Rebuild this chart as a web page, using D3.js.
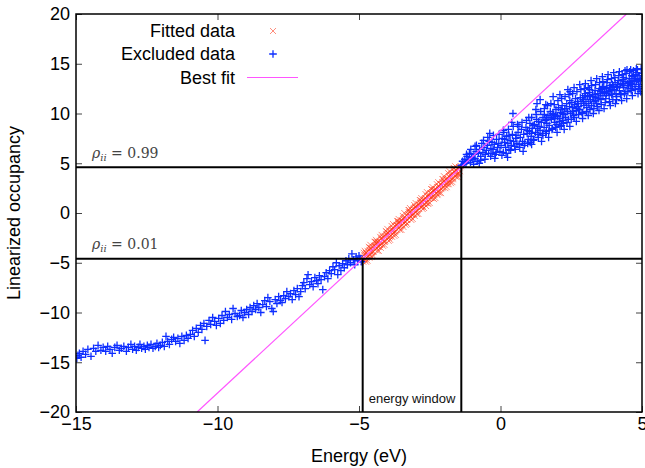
<!DOCTYPE html>
<html>
<head>
<meta charset="utf-8">
<script src="https://cdn.jsdelivr.net/npm/d3@7"></script>
<style>
  body { margin: 0; background: #fff; }
  svg { display: block; font-family: 'Liberation Sans', Arial, sans-serif; }
  .tick line { stroke: #444; stroke-width: 1; }
  .tick text { font-size: 18px; fill: #000; }
</style>
</head>
<body>
<div id="chart"></div>
<script>
// Points inside the energy window (used for the fit)
const fittedData = [
  [-4.88,-4.4],[-4.85,-4.9],[-4.82,-4.2],[-4.79,-4.6],[-4.76,-4.0],[-4.73,-4.5],[-4.70,-3.8],[-4.67,-4.3],
  [-4.64,-3.7],[-4.61,-4.2],[-4.58,-3.5],[-4.55,-4.0],[-4.52,-3.4],[-4.49,-3.9],[-4.46,-3.3],[-4.43,-3.7],
  [-4.40,-3.0],[-4.37,-3.5],[-4.34,-2.9],[-4.31,-3.4],[-4.28,-2.8],[-4.25,-3.2],[-4.22,-2.6],[-4.19,-3.1],
  [-4.16,-2.4],[-4.13,-2.9],[-4.10,-2.3],[-4.07,-2.8],[-4.04,-2.1],[-4.01,-2.6],[-3.98,-2.0],[-3.95,-2.5],
  [-3.92,-1.8],[-3.89,-2.3],[-3.86,-1.7],[-3.83,-2.1],[-3.80,-1.5],[-3.77,-2.0],[-3.74,-1.3],[-3.71,-1.8],
  [-3.68,-1.2],[-3.65,-1.7],[-3.62,-1.0],[-3.59,-1.5],[-3.56,-0.9],[-3.53,-1.3],[-3.50,-0.7],[-3.47,-1.2],
  [-3.44,-0.6],[-3.41,-1.0],[-3.38,-0.4],[-3.35,-0.9],[-3.32,-0.2],[-3.29,-0.7],[-3.26,-0.1],[-3.23,-0.5],
  [-3.20,0.1],[-3.17,-0.4],[-3.14,0.3],[-3.11,-0.2],[-3.08,0.4],[-3.05,-0.1],[-3.02,0.6],[-2.99,0.1],
  [-2.96,0.7],[-2.93,0.3],[-2.90,0.9],[-2.87,0.4],[-2.84,1.0],[-2.81,0.6],[-2.78,1.2],[-2.75,0.7],
  [-2.72,1.3],[-2.69,0.9],[-2.66,1.5],[-2.63,1.0],[-2.60,1.7],[-2.57,1.2],[-2.54,1.8],[-2.51,1.4],
  [-2.48,2.0],[-2.45,1.5],[-2.42,2.1],[-2.39,1.7],[-2.36,2.3],[-2.33,1.8],[-2.30,2.4],[-2.27,2.0],
  [-2.24,2.6],[-2.21,2.1],[-2.18,2.7],[-2.15,2.3],[-2.12,2.9],[-2.09,2.4],[-2.06,3.1],[-2.03,2.6],
  [-2.00,3.2],[-1.97,2.8],[-1.94,3.4],[-1.91,2.9],[-1.88,3.5],[-1.85,3.1],[-1.82,3.7],[-1.79,3.2],
  [-1.76,3.8],[-1.73,3.4],[-1.70,4.0],[-1.67,3.5],[-1.64,4.2],[-1.61,3.7],[-1.58,4.3],[-1.55,3.9],
  [-1.52,4.5],[-1.49,4.0],[-1.46,4.6],[-1.43,4.2],[-1.40,4.7],
  [-4.865,-4.6],[-4.805,-4.7],[-4.745,-4.0],[-4.685,-4.4],[-4.625,-3.5],[-4.565,-3.9],[-4.505,-3.9],
  [-4.445,-3.3],[-4.385,-2.9],[-4.325,-3.4],[-4.265,-3.2],[-4.205,-2.5],[-4.145,-2.7],[-4.085,-2.9],
  [-4.025,-2.2],[-3.965,-2.0],[-3.905,-2.4],[-3.845,-1.6],[-3.785,-1.8],[-3.725,-1.9],[-3.665,-1.2],
  [-3.605,-0.9],[-3.545,-1.4],[-3.485,-0.8],[-3.425,-0.5],[-3.365,-0.9],[-3.305,-0.7],[-3.245,0.1],
  [-3.185,-0.3],[-3.125,-0.2],[-3.065,0.5],[-3.005,0.6],[-2.945,0.2],[-2.885,0.8],[-2.825,1.1],
  [-2.765,0.6],[-2.705,1.4],[-2.645,1.5],[-2.585,1.0],[-2.525,1.7],[-2.465,2.0],[-2.405,1.5],
  [-2.345,2.3],[-2.285,2.4],[-2.225,1.9],[-2.165,2.6],[-2.105,2.9],[-2.045,2.5],[-1.985,3.1],
  [-1.925,3.4],[-1.865,2.9],[-1.805,3.6],[-1.745,3.9],[-1.685,3.4],[-1.625,4.1],[-1.565,4.3],
  [-1.505,3.9],[-1.445,4.6],
  [-4.80,-3.8],[-4.70,-4.8],[-4.60,-3.2],[-4.50,-4.3],[-4.40,-2.7],[-4.30,-3.8],[-4.20,-2.2],[-4.10,-3.2],
  [-4.00,-1.6],[-3.90,-2.7],[-3.80,-1.1],[-3.70,-2.2],[-3.60,-0.6],[-3.50,-1.7],[-3.40,0.0],[-3.30,-1.1],
  [-3.20,0.5],[-3.10,-0.6],[-3.00,1.0],[-2.90,-0.1],[-2.80,1.5],[-2.70,0.5],[-2.60,2.1],[-2.50,1.0],
  [-2.40,2.6],[-2.30,1.5],[-2.20,3.1],[-2.10,2.0],[-2.00,3.7],[-1.90,2.6],[-1.80,4.2],[-1.70,3.1],
  [-1.60,4.7],[-1.50,3.6],
  [-4.75,-4.9],[-4.65,-3.4],[-4.55,-4.4],[-4.45,-2.9],[-4.35,-3.8],[-4.25,-2.4],[-4.15,-3.3],[-4.05,-1.8],
  [-3.95,-2.8],[-3.85,-1.3],[-3.75,-2.3],[-3.65,-0.8],[-3.55,-1.7],[-3.45,-0.3],[-3.35,-1.2],[-3.25,0.3],
  [-3.15,-0.7],[-3.05,0.8],[-2.95,-0.1],[-2.85,1.3],[-2.75,0.4],[-2.65,1.9],[-2.55,0.9],[-2.45,2.4],
  [-2.35,1.4],[-2.25,2.9],[-2.15,2.0],[-2.05,3.4],[-1.95,2.5],[-1.85,4.0],[-1.75,3.0],[-1.65,4.5],
  [-1.55,3.6],
  [-4.83,-4.0],[-4.63,-4.5],[-4.43,-2.9],[-4.23,-3.5],[-4.03,-1.9],[-3.83,-2.4],[-3.63,-0.8],[-3.43,-1.4],
  [-3.23,0.3],[-3.03,-0.3],[-2.83,1.3],[-2.63,0.7],[-2.43,2.4],[-2.23,1.8],[-2.03,3.4],[-1.83,2.9],
  [-1.63,4.5],[-1.48,3.9]
]

// Points below the window (low energy side)
const excludedLow = [
  [-14.97,-14.6],[-14.93,-14.3],[-14.88,-14.1],[-14.82,-14.5],[-14.75,-13.9],[-14.66,-14.2],[-14.58,-13.7],
  [-14.47,-14.4],[-14.38,-13.6],[-14.3,-13.9],[-14.22,-13.3],[-14.12,-13.8],[-14.04,-13.5],
  [-13.95,-13.9],[-13.88,-13.4],[-13.8,-13.7],[-13.72,-14.1],[-13.63,-13.5],[-13.55,-13.3],[-13.47,-13.8],
  [-13.4,-13.6],[-13.31,-13.4],[-13.22,-13.9],[-13.15,-13.5],[-13.06,-13.2],[-13.0,-13.7],
  [-12.93,-13.4],[-12.87,-13.8],[-12.8,-13.5],[-12.74,-13.2],[-12.68,-13.6],[-12.6,-13.4],[-12.55,-13.7],
  [-12.48,-13.3],[-12.42,-13.5],[-12.35,-13.2],[-12.28,-13.6],[-12.2,-13.4],[-12.14,-13.1],[-12.08,-13.5],
  [-12.02,-13.3],
  [-11.95,-13.0],[-11.88,-13.4],[-11.82,-12.4],[-11.76,-12.9],[-11.7,-13.2],[-11.62,-12.7],[-11.55,-12.5],
  [-11.48,-12.9],[-11.4,-12.6],[-11.33,-13.1],[-11.26,-12.4],[-11.18,-12.8],[-11.1,-12.3],[-11.04,-12.6],
  [-10.96,-12.2],[-10.88,-11.8],[-10.82,-12.4],[-10.75,-11.6],[-10.68,-12.0],[-10.6,-11.3],[-10.55,-11.7],
  [-10.48,-11.1],[-10.44,-12.8],[-10.38,-11.4],[-10.3,-10.8],[-10.24,-11.2],[-10.17,-10.5],[-10.1,-10.9],
  [-10.04,-11.3],
  [-9.96,-10.6],[-9.9,-11.1],[-9.84,-10.3],[-9.78,-10.8],[-9.72,-9.9],[-9.65,-10.5],[-9.58,-10.2],
  [-9.5,-10.7],[-9.45,-9.6],[-9.38,-10.1],[-9.3,-10.4],[-9.22,-10.3],[-9.16,-9.8],[-9.1,-10.5],[-9.04,-10.0],
  [-8.97,-9.7],[-8.9,-10.2],[-8.85,-9.5],[-8.78,-9.9],[-8.72,-9.3],[-8.65,-9.7],[-8.6,-9.1],[-8.54,-9.5],
  [-8.47,-10.0],[-8.4,-9.2],[-8.33,-8.8],[-8.27,-9.4],[-8.22,-8.5],[-8.15,-8.9],[-8.08,-9.6],[-8.03,-9.9],
  [-7.96,-8.7],[-7.9,-9.1],[-7.84,-8.4],[-7.78,-8.8],[-7.72,-9.0],[-7.66,-8.3],[-7.6,-8.6],[-7.55,-7.9],
  [-7.48,-8.4],[-7.42,-8.1],[-7.36,-8.7],[-7.3,-7.8],[-7.24,-8.2],[-7.18,-7.6],[-7.12,-8.4],[-7.06,-7.9],
  [-7.0,-7.3],
  [-6.95,-7.0],[-6.9,-7.6],[-6.84,-6.6],[-6.8,-6.2],[-6.74,-7.2],[-6.68,-6.9],[-6.62,-7.4],[-6.56,-6.5],
  [-6.5,-6.8],[-6.45,-7.1],[-6.4,-6.3],[-6.34,-6.7],[-6.28,-7.7],[-6.22,-6.4],[-6.16,-6.0],[-6.1,-6.6],
  [-6.04,-5.8],
  [-5.98,-6.1],[-5.92,-5.4],[-5.86,-5.7],[-5.8,-5.0],[-5.75,-6.2],[-5.7,-5.3],[-5.64,-5.8],[-5.58,-5.1],
  [-5.52,-5.5],[-5.46,-4.8],[-5.41,-5.2],[-5.36,-4.6],[-5.3,-5.0],[-5.25,-4.1],[-5.2,-4.7],[-5.15,-5.2],
  [-5.1,-4.4],[-5.05,-4.8],[-5.0,-4.3],[-4.96,-4.6],[-4.92,-4.9]
]

// Points above the window (high energy side)
const excludedHigh = [
  [-1.38,4.8],[-1.34,5.2],[-1.3,4.9],[-1.26,5.4],[-1.22,5.0],[-1.18,5.7],[-1.14,5.3],[-1.1,6.0],[-1.06,5.1],
  [-1.02,5.6],
  [-0.98,5.4],[-0.94,5.9],[-0.9,5.5],[-0.86,6.2],[-0.82,5.2],[-0.78,6.0],[-0.74,6.4],[-0.7,5.7],[-0.66,7.0],
  [-0.62,6.1],[-0.58,6.6],[-0.54,5.9],[-0.5,6.3],
  [-0.46,6.8],[-0.42,6.0],[-0.38,8.0],[-0.34,6.5],[-0.3,7.1],[-0.26,6.4],[-0.22,6.9],[-0.18,5.9],[-0.14,7.4],
  [-0.1,6.6],[-0.06,7.0],[-0.02,6.2],
  [0.02,6.8],[0.06,7.5],[0.1,6.1],[0.14,7.1],[0.18,6.6],[0.22,7.7],[0.26,7.0],[0.3,6.4],[0.34,7.3],[0.38,6.8],
  [0.42,7.9],[0.44,10.0],[0.46,7.2],[0.5,6.7],
  [0.54,7.5],[0.58,7.0],[0.62,8.1],[0.66,6.9],[0.7,7.6],[0.74,8.4],[0.78,7.2],[0.82,7.9],[0.86,7.0],[0.9,8.6],
  [0.94,8.0],[0.98,7.4],
  [1.02,8.2],[1.04,9.0],[1.08,7.7],[1.12,8.5],[1.16,7.3],[1.2,8.9],[1.24,8.1],[1.28,9.4],[1.29,11.0],[1.32,7.9],
  [1.36,8.7],[1.4,11.4],[1.4,8.3],[1.44,9.1],[1.48,8.0],
  [1.5,9.6],[1.54,8.6],[1.58,9.3],[1.62,8.2],[1.64,9.0],[1.68,9.8],[1.72,8.8],[1.76,10.2],[1.8,9.4],[1.84,8.5],
  [1.86,11.7],[1.88,9.9],[1.92,9.1],[1.96,10.4],[1.99,8.9],
  [2.02,9.7],[2.05,10.6],[2.08,9.2],[2.12,10.1],[2.15,8.8],[2.18,10.8],[2.2,9.3],[2.24,9.9],[2.27,10.5],[2.3,9.6],
  [2.34,11.0],[2.37,10.2],[2.4,9.4],[2.44,10.7],[2.46,12.2],[2.48,10.0],
  [2.52,11.1],[2.56,10.6],[2.58,9.8],[2.62,10.9],[2.65,11.5],[2.68,10.3],[2.72,11.2],[2.75,10.7],[2.8,10.4],
  [2.82,11.6],[2.85,11.0],[2.88,10.1],[2.92,11.4],[2.95,10.8],[2.98,11.8],
  [3.02,11.2],[3.05,10.6],[3.08,11.7],[3.12,11.0],[3.15,12.1],[3.18,11.4],[3.22,10.8],[3.25,11.9],[3.27,11.7],
  [3.3,11.2],[3.34,12.3],[3.37,11.6],[3.4,11.0],[3.44,12.0],[3.47,11.5],[3.5,12.5],
  [3.52,12.0],[3.55,11.4],[3.58,12.4],[3.62,11.8],[3.65,12.7],[3.68,12.1],[3.72,11.5],[3.74,12.5],[3.76,13.1],
  [3.8,12.2],[3.84,11.8],[3.87,12.8],[3.9,12.3],[3.93,11.9],[3.96,12.9],[3.98,12.7],
  [4.02,12.4],[4.05,13.1],[4.08,12.0],[4.1,11.4],[4.13,12.7],[4.16,13.3],[4.2,12.3],[4.23,12.9],[4.26,11.9],
  [4.3,13.0],[4.33,13.4],[4.36,12.6],[4.4,13.2],[4.43,12.2],[4.47,14.4],[4.48,13.0],
  [4.52,12.8],[4.55,13.5],[4.58,12.5],[4.61,13.2],[4.64,13.8],[4.67,12.9],[4.68,13.7],[4.72,13.3],[4.75,12.7],
  [4.78,13.9],[4.82,14.1],[4.85,13.4],[4.88,12.9],[4.9,13.8],[4.93,12.7],[4.96,13.5],[4.99,14.0],
  [-1.2,5.9],[-1.05,6.4],[-0.95,4.9],[-0.85,6.8],[-0.75,5.0],[-0.6,7.3],[-0.55,5.4],[-0.45,7.6],[-0.35,5.7],
  [-0.25,7.8],[-0.15,6.1],[-0.05,7.9],
  [0.05,5.8],[0.12,8.1],[0.2,6.0],[0.28,8.4],[0.36,6.3],[0.45,8.7],[0.52,6.4],[0.6,8.9],[0.68,6.6],[0.76,9.1],
  [0.84,6.8],[0.92,9.3],[0.96,7.0],
  [1.05,7.1],[1.1,9.6],[1.18,7.4],[1.26,9.9],[1.34,7.6],[1.42,10.2],[1.5,7.8],[1.55,10.5],[1.6,8.0],[1.66,10.8],
  [1.72,8.3],[1.78,11.0],[1.82,8.4],[1.9,10.9],[1.95,8.6],
  [2.03,11.3],[2.1,8.7],[2.16,11.5],[2.22,9.0],[2.28,11.7],[2.35,9.1],[2.42,11.9],[2.5,9.4],[2.55,12.0],[2.6,9.6],
  [2.7,12.2],[2.76,9.9],[2.84,12.4],[2.9,10.0],[2.96,12.5],
  [3.04,10.2],[3.1,12.6],[3.16,10.4],[3.22,12.8],[3.3,10.5],[3.36,12.9],[3.42,10.7],[3.5,13.1],[3.56,10.9],
  [3.62,13.2],[3.7,11.1],[3.78,13.4],[3.85,11.2],[3.92,13.5],[3.97,11.4],
  [4.04,13.6],[4.1,11.7],[4.18,13.8],[4.24,11.9],[4.3,13.9],[4.38,12.0],[4.44,14.0],[4.5,12.2],[4.56,14.2],
  [4.62,12.3],[4.7,14.3],[4.76,12.4],[4.84,14.4],[4.9,12.5],[4.97,14.5],
  [0.15,7.4],[0.55,7.8],[0.95,8.3],[1.15,8.8],[1.35,9.2],[1.55,9.9],[1.75,9.6],[1.95,9.8],[2.14,10.4],
  [2.32,10.5],[2.54,10.2],[2.74,11.0],[2.94,11.2],[3.14,11.8],[3.34,11.9],[3.54,12.2],[3.74,12.0],[3.94,12.4],
  [4.14,12.9],[4.34,12.8],[4.54,13.1],[4.74,13.5],[4.94,13.3],
  [-0.9,6.7],[-0.7,5.3],[-0.4,7.2],[-0.2,5.5],[0.1,8.3],[0.25,5.6],[0.4,9.1],[0.65,8.7],[0.8,6.2],[1.0,9.6],
  [1.1,6.9],[1.25,10.4],[1.45,7.2],[1.6,10.9],[1.7,7.6],[1.85,10.0],[2.0,8.1],[2.1,11.9],[2.25,8.4],[2.38,12.4],
  [2.45,8.7],[2.6,12.6],[2.68,9.2],[2.8,12.9],[2.9,9.5],[3.0,13.0],[3.1,9.8],[3.2,13.3],[3.28,10.0],[3.4,13.5],
  [3.48,10.3],[3.6,13.7],[3.66,10.5],[3.8,13.9],[3.88,10.8],[4.0,14.1],[4.06,11.0],[4.2,14.2],[4.28,11.3],
  [4.4,14.3],[4.46,11.5],[4.6,14.4],[4.66,11.8],[4.8,14.5],[4.86,12.0],[4.95,12.2],
  [1.3,8.5],[1.62,9.4],[1.9,9.5],[2.2,10.0],[2.45,11.3],[2.7,10.5],[2.9,11.6],[3.15,12.4],[3.35,11.3],
  [3.6,12.6],[3.85,12.6],[4.1,12.6],[4.35,13.6],[4.6,13.0],[4.8,13.2],[3.0,12.0],[2.1,9.5],[1.1,8.0],
  [0.3,7.8],[-0.3,6.0]
]

// Best fit line end points, occupancy levels and window edges
const fitLine = [[-10.72, -20], [4.45, 20]]
const occupancyLevels = [4.595, -4.595]
const occupancyLabels = ['0.99', '0.01']
const windowEdges = [-4.87, -1.385]

const xTicks = [-15, -10, -5, 0, 5]
const yTicks = [-20, -15, -10, -5, 0, 5, 10, 15, 20]
const legendLabels = ['Fitted data', 'Excluded data', 'Best fit']

const drawChart = () => {
  const margin = { top: 14, right: 3, bottom: 56, left: 76 }
  const width = 645
  const height = 468
  const innerWidth = width - margin.left - margin.right
  const innerHeight = height - margin.top - margin.bottom

  const svg = d3.select('#chart')
    .append('svg')
    .attr('width', width)
    .attr('height', height)

  const g = svg.append('g')
    .attr('transform', `translate(${margin.left}, ${margin.top})`)

  const x = d3.scaleLinear().domain([-15, 5]).range([0, innerWidth])
  const y = d3.scaleLinear().domain([-20, 20]).range([innerHeight, 0])

  const blue = '#0d2eff'
  const red = '#ff3010'
  const magenta = '#ff55ff'
  const plusPath = 'M-3.8,0H3.8M0,-3.8V3.8'
  const crossPath = 'M-3,-3L3,3M3,-3L-3,3'

  // Ticks on all four sides, pointing inwards
  g.append('g')
    .attr('transform', `translate(0, ${innerHeight})`)
    .call(d3.axisBottom(x).tickValues(xTicks).tickSizeInner(-6).tickSizeOuter(0).tickPadding(5))
    .call(a => a.select('.domain').remove())
  g.append('g')
    .call(d3.axisTop(x).tickValues(xTicks).tickSizeInner(-6).tickSizeOuter(0).tickFormat(''))
    .call(a => a.select('.domain').remove())
  g.append('g')
    .call(d3.axisLeft(y).tickValues(yTicks).tickSizeInner(-6).tickSizeOuter(0).tickPadding(6))
    .call(a => a.select('.domain').remove())
  g.append('g')
    .attr('transform', `translate(${innerWidth}, 0)`)
    .call(d3.axisRight(y).tickValues(yTicks).tickSizeInner(-6).tickSizeOuter(0).tickFormat(''))
    .call(a => a.select('.domain').remove())

  g.append('clipPath')
    .attr('id', 'plot-clip')
    .append('rect')
    .attr('width', innerWidth)
    .attr('height', innerHeight)

  const plot = g.append('g').attr('clip-path', 'url(#plot-clip)')

  // Fitted points
  plot.append('g')
    .selectAll('path')
    .data(fittedData)
    .join('path')
    .attr('transform', d => `translate(${x(d[0])}, ${y(d[1])})`)
    .attr('d', crossPath)
    .attr('stroke', red)
    .attr('stroke-opacity', 0.55)
    .attr('fill', 'none')

  // Excluded points
  plot.append('g')
    .selectAll('path')
    .data(excludedLow.concat(excludedHigh))
    .join('path')
    .attr('transform', d => `translate(${x(d[0])}, ${y(d[1])})`)
    .attr('d', plusPath)
    .attr('stroke', blue)
    .attr('stroke-width', 1.3)
    .attr('fill', 'none')

  // Best fit line
  plot.append('path')
    .datum(fitLine)
    .attr('d', d3.line().x(d => x(d[0])).y(d => y(d[1])))
    .attr('stroke', magenta)
    .attr('stroke-width', 1.2)
    .attr('fill', 'none')

  // Occupancy levels 0.99 / 0.01
  g.selectAll('.level')
    .data(occupancyLevels)
    .join('line')
    .attr('class', 'level')
    .attr('x1', 0)
    .attr('x2', innerWidth)
    .attr('y1', d => y(d))
    .attr('y2', d => y(d))
    .attr('stroke', '#000')
    .attr('stroke-width', 2)

  // Energy window edges
  g.selectAll('.edge')
    .data(windowEdges)
    .join('line')
    .attr('class', 'edge')
    .attr('x1', d => x(d))
    .attr('x2', d => x(d))
    .attr('y1', (d, i) => y(occupancyLevels[1 - i]))
    .attr('y2', innerHeight)
    .attr('stroke', '#000')
    .attr('stroke-width', 2)

  // rho labels
  occupancyLevels.forEach((lv, i) => {
    const t = g.append('text')
      .attr('x', 16)
      .attr('y', y(lv) - 9.5)
      .attr('font-family', "'DejaVu Serif', serif")
      .attr('font-size', 14)
      .attr('fill', '#444')
    t.append('tspan').attr('font-style', 'italic').text('ρ')
    t.append('tspan').attr('font-style', 'italic').attr('font-size', 10).attr('dy', 3).text('ii')
    t.append('tspan').attr('dy', -3).text(' = ' + occupancyLabels[i])
  })

  g.append('text')
    .attr('x', x(windowEdges[0]) + 6)
    .attr('y', innerHeight - 9)
    .attr('font-size', 13)
    .attr('fill', '#111')
    .text('energy window')

  // Frame
  g.append('rect')
    .attr('width', innerWidth)
    .attr('height', innerHeight)
    .attr('fill', 'none')
    .attr('stroke', '#000')
    .attr('stroke-width', 1.5)

  // Axis titles
  svg.append('text')
    .attr('x', margin.left + innerWidth / 2)
    .attr('y', 462)
    .attr('text-anchor', 'middle')
    .attr('font-size', 18)
    .text('Energy (eV)')

  svg.append('text')
    .attr('transform', `translate(20, ${margin.top + innerHeight / 2}) rotate(-90)`)
    .attr('text-anchor', 'middle')
    .attr('font-size', 18)
    .text('Linearized occupancy')

  // Legend
  const legend = g.append('g')
  legendLabels.forEach((lab, i) => {
    const by = 23 + i * 23.3
    legend.append('text')
      .attr('x', 159)
      .attr('y', by)
      .attr('text-anchor', 'end')
      .attr('font-size', 18)
      .text(lab)
  })
  legend.append('path')
    .attr('transform', 'translate(197, 17)')
    .attr('d', crossPath)
    .attr('stroke', red)
    .attr('stroke-opacity', 0.55)
  legend.append('path')
    .attr('transform', 'translate(197, 40)')
    .attr('d', plusPath)
    .attr('stroke', blue)
    .attr('stroke-width', 1.3)
  legend.append('line')
    .attr('x1', 171)
    .attr('x2', 222)
    .attr('y1', 63.5)
    .attr('y2', 63.5)
    .attr('stroke', magenta)
    .attr('stroke-width', 1.2)
}

drawChart()
</script>
</body>
</html>
